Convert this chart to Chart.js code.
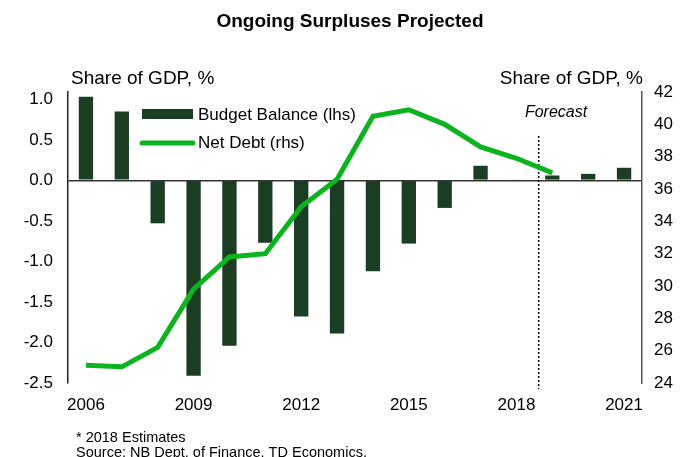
<!DOCTYPE html>
<html>
<head>
<meta charset="utf-8">
<script src="https://cdn.jsdelivr.net/npm/chart.js@4.4.1/dist/chart.umd.min.js"></script>
<style>
  html, body { margin: 0; padding: 0; background: #fff; }
  #wrap { width: 681px; height: 457px; position: relative; }
</style>
</head>
<body>
<div id="wrap"><canvas id="chart"></canvas></div>
<script>
// Data
const years = ['2006', '2007', '2008', '2009', '2010', '2011', '2012', '2013',
               '2014', '2015', '2016', '2017', '2018', '2019', '2020', '2021'];
const budgetBalance = [1.03, 0.85, -0.53, -2.41, -2.04, -0.77, -1.68, -1.89,
                       -1.12, -0.78, -0.34, 0.18, 0.01, 0.06, 0.08, 0.155];
const netDebt = [25.1, 25.0, 26.2, 29.8, 31.8, 32.0, 34.9, 36.6,
                 40.5, 40.9, 40.0, 38.6, 37.9, 37.0, null, null];
const leftTicks = [-2.5, -2.0, -1.5, -1.0, -0.5, 0.0, 0.5, 1.0];
const rightTicks = [24, 26, 28, 30, 32, 34, 36, 38, 40, 42];
const shownYears = ['2006', '2009', '2012', '2015', '2018', '2021'];

const barColor = '#1a3d24';
const lineColor = '#0db31e';
const font = 'Liberation Sans, Arial, sans-serif';

// Draws title, axis titles, legend, forecast marker and footnotes
const extras = {
    id: 'extras',
    beforeDatasetsDraw(chart) {
        const ctx = chart.ctx;
        const x = chart.scales.x;
        const area = chart.chartArea;
        // forecast divider between 2018 and 2019
        const fx = x.getPixelForValue(12) + 0.62 * (x.getPixelForValue(13) - x.getPixelForValue(12));
        ctx.save();
        ctx.strokeStyle = '#000';
        ctx.lineWidth = 1.5;
        ctx.setLineDash([2, 2]);
        ctx.beginPath();
        ctx.moveTo(fx, 136);
        ctx.lineTo(fx, area.bottom + 6);
        ctx.stroke();
        ctx.restore();
    },
    afterDraw(chart) {
        const ctx = chart.ctx;
        ctx.save();
        ctx.fillStyle = '#000';
        ctx.textBaseline = 'alphabetic';

        ctx.font = 'bold 19px ' + font;
        ctx.textAlign = 'center';
        ctx.fillText('Ongoing Surpluses Projected', 350, 27);

        ctx.font = '19px ' + font;
        ctx.textAlign = 'left';
        ctx.fillText('Share of GDP, %', 71, 84);
        ctx.textAlign = 'right';
        ctx.fillText('Share of GDP, %', 643, 84);

        ctx.font = 'italic 16px ' + font;
        ctx.textAlign = 'center';
        ctx.fillText('Forecast', 556, 117);

        // legend
        ctx.fillStyle = barColor;
        ctx.fillRect(142, 109, 51, 10);
        ctx.strokeStyle = lineColor;
        ctx.lineWidth = 5;
        ctx.lineCap = 'round';
        ctx.beginPath();
        ctx.moveTo(142, 143);
        ctx.lineTo(193, 143);
        ctx.stroke();
        ctx.fillStyle = '#000';
        ctx.font = '17px ' + font;
        ctx.textAlign = 'left';
        ctx.fillText('Budget Balance (lhs)', 198, 120);
        ctx.fillText('Net Debt (rhs)', 198, 148);

        // footnotes
        ctx.font = '14.5px ' + font;
        ctx.fillText('* 2018 Estimates', 76, 442);
        ctx.fillText('Source: NB Dept. of Finance, TD Economics.', 76, 457);
        ctx.restore();
    }
};

const ctx = document.getElementById('chart').getContext('2d');
const chart = new Chart(ctx, {
    type: 'bar',
    data: {
        labels: years,
        datasets: [{
            type: 'line',
            label: 'Net Debt (rhs)',
            data: netDebt,
            yAxisID: 'y1',
            borderColor: lineColor,
            borderWidth: 5,
            pointRadius: 0,
            tension: 0,
            spanGaps: false,
            order: 0
        }, {
            label: 'Budget Balance (lhs)',
            data: budgetBalance,
            yAxisID: 'y',
            backgroundColor: barColor,
            barPercentage: 0.4,
            categoryPercentage: 1.0,
            order: 1
        }]
    },
    options: {
        responsive: true,
        maintainAspectRatio: false,
        animation: false,
        layout: { padding: { top: 92, left: 0, right: 0, bottom: 0 } },
        plugins: {
            legend: { display: false },
            tooltip: { enabled: false }
        },
        scales: {
            x: {
                afterFit(scale) { scale.height = 74; },
                grid: { display: false, drawTicks: false },
                border: { display: false },
                ticks: {
                    autoSkip: false,
                    maxRotation: 0,
                    padding: 12,
                    color: '#000',
                    font: { family: font, size: 17 },
                    callback(value) {
                        const label = this.getLabelForValue(value);
                        return shownYears.includes(label) ? label : '';
                    }
                }
            },
            y: {
                position: 'left',
                min: -2.5,
                max: 1.09,
                afterFit(scale) { scale.width = 68; },
                afterBuildTicks(scale) { scale.ticks = leftTicks.map(v => ({ value: v })); },
                border: { display: true, color: '#1a2a1a', width: 1.5 },
                grid: {
                    drawTicks: false,
                    lineWidth: 1.5,
                    color(c) { return c.tick && c.tick.value === 0 ? '#333' : 'rgba(0,0,0,0)'; }
                },
                ticks: {
                    padding: 15,
                    color: '#000',
                    font: { family: font, size: 17 },
                    callback(value) { return value.toFixed(1); }
                }
            },
            y1: {
                position: 'right',
                min: 24,
                max: 42,
                afterFit(scale) { scale.width = 39; },
                afterBuildTicks(scale) { scale.ticks = rightTicks.map(v => ({ value: v })); },
                border: { display: true, color: '#555', width: 1.5 },
                grid: { display: false, drawTicks: false },
                ticks: {
                    padding: 12,
                    color: '#000',
                    font: { family: font, size: 17 }
                }
            }
        }
    },
    plugins: [extras]
});
</script>
</body>
</html>
